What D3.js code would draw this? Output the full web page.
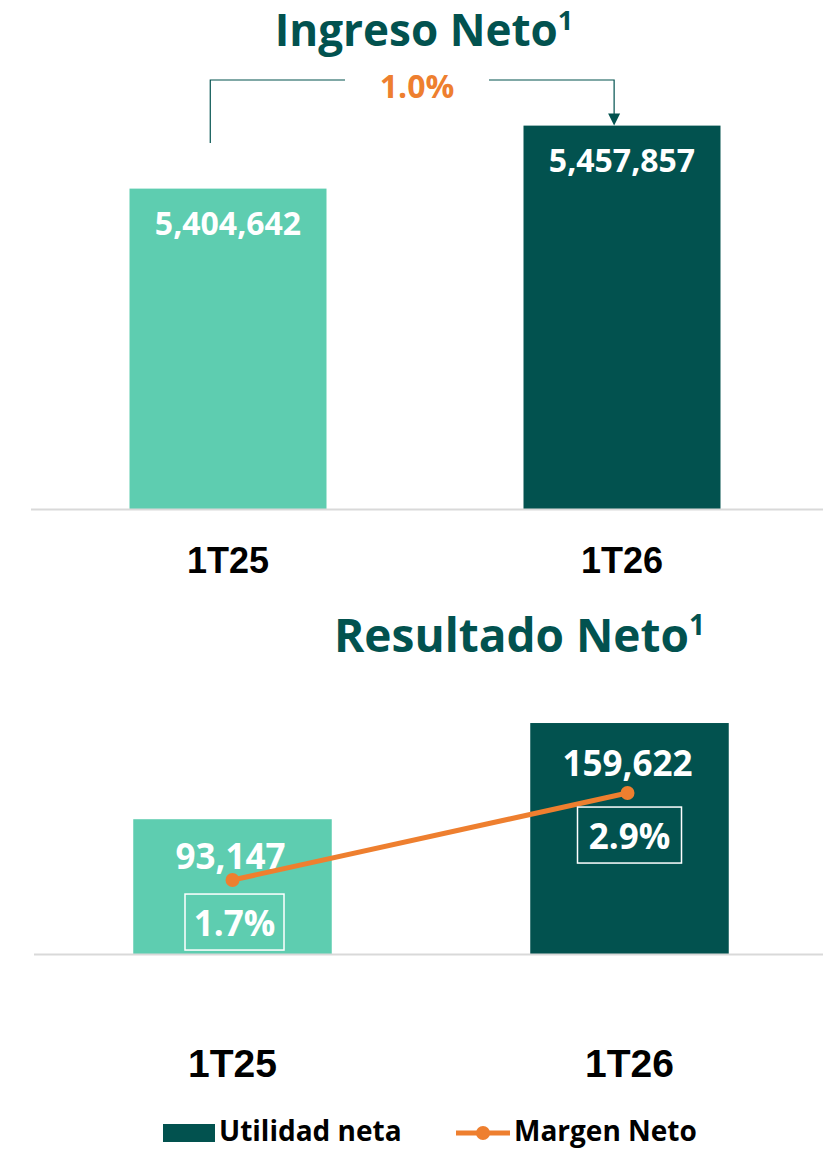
<!DOCTYPE html>
<html>
<head>
<meta charset="utf-8">
<script src="https://cdn.jsdelivr.net/npm/d3@7"></script>
<style>
  body { margin: 0; background: #fff; }
  svg text { font-family: "Open Sans", "Noto Sans", sans-serif; font-weight: 700; }
  .cat { font-family: "Liberation Sans", Arial, sans-serif; }
</style>
</head>
<body>
<div id="plot"></div>
<script>
// data
const periods = ["1T25", "1T26"];
const ingreso = [5404642, 5457857];
const ingresoGrowth = "1.0%";
const utilidad = [93147, 159622];
const margen = [1.7, 2.9];

const W = 823, H = 1149;
const dark = "#02524F", light = "#5ECDB0", orange = "#EE7F2F", grid = "#D9D9D9";
const fmt = d3.format(",");

const svg = d3.select("#plot").append("svg")
    .attr("width", W).attr("height", H);

// ---------- top chart: Ingreso Neto ----------
const x1 = d3.scaleBand().domain(periods).range([31, 819]).paddingInner(0.5).paddingOuter(0.25);
const y1 = d3.scaleLinear().domain([5134000, 5480000]).range([509, 99.4]);

const title1 = svg.append("text").attr("x", 424).attr("y", 46)
    .attr("text-anchor", "middle").attr("fill", dark).style("font-size", "44px");
title1.append("tspan").text("Ingreso Neto");
title1.append("tspan").attr("dy", -16).style("font-size", "27px").text("1");

svg.selectAll(".bar1").data(periods).join("rect")
    .attr("x", d => x1(d)).attr("width", x1.bandwidth())
    .attr("y", (d, i) => y1(ingreso[i]))
    .attr("height", (d, i) => y1.range()[0] - y1(ingreso[i]))
    .attr("fill", (d, i) => i === 0 ? light : dark);

svg.selectAll(".val1").data(periods).join("text")
    .attr("x", d => x1(d) + x1.bandwidth() / 2)
    .attr("y", (d, i) => y1(ingreso[i]) + 46)
    .attr("text-anchor", "middle").attr("fill", "#fff").style("font-size", "32px")
    .text((d, i) => fmt(ingreso[i]));

svg.append("line").attr("x1", 31).attr("x2", W).attr("y1", 509.5).attr("y2", 509.5)
    .attr("stroke", grid).attr("stroke-width", 2);

svg.selectAll(".cat1").data(periods).join("text").attr("class", "cat")
    .attr("x", d => x1(d) + x1.bandwidth() / 2).attr("y", 573)
    .attr("text-anchor", "middle").attr("fill", "#000").style("font-size", "36px")
    .text(d => d);

// growth bracket
const bx0 = x1(periods[0]) + x1.bandwidth() * 0.41;
const bx1 = x1(periods[1]) + x1.bandwidth() * 0.46;
const by = 80;
svg.append("path")
    .attr("d", `M${bx0},143 V${by} H345 M489,${by} H${bx1} V${y1(ingreso[1]) - 10}`)
    .attr("fill", "none").attr("stroke", dark).attr("stroke-width", 1.2);
svg.append("path")
    .attr("d", `M${bx1 - 6},${y1(ingreso[1]) - 12} L${bx1 + 6},${y1(ingreso[1]) - 12} L${bx1},${y1(ingreso[1])} Z`)
    .attr("fill", dark);
svg.append("text").attr("x", 417).attr("y", 98).attr("text-anchor", "middle")
    .attr("fill", orange).style("font-size", "32px").text(ingresoGrowth);

// ---------- bottom chart: Resultado Neto ----------
const x2 = d3.scaleBand().domain(periods).range([34, 828]).paddingInner(0.5).paddingOuter(0.25);
const y2 = d3.scaleLinear().domain([0, 200000]).range([954, 664.6]);
const y2m = d3.scaleLinear().domain([0, 4]).range([1003.3, 713.3]);

const title2 = svg.append("text").attr("x", 334).attr("y", 652)
    .attr("fill", dark).style("font-size", "46px");
title2.append("tspan").text("Resultado Neto");
title2.append("tspan").attr("dy", -17).style("font-size", "28px").text("1");

svg.selectAll(".bar2").data(periods).join("rect")
    .attr("x", d => x2(d)).attr("width", x2.bandwidth())
    .attr("y", (d, i) => y2(utilidad[i]))
    .attr("height", (d, i) => y2(0) - y2(utilidad[i]))
    .attr("fill", (d, i) => i === 0 ? light : dark);

svg.selectAll(".val2").data(periods).join("text")
    .attr("x", d => x2(d) + x2.bandwidth() / 2 - 2)
    .attr("y", (d, i) => y2(utilidad[i]) + (i === 0 ? 50 : 53))
    .attr("text-anchor", "middle").attr("fill", "#fff").style("font-size", "35px")
    .text((d, i) => fmt(utilidad[i]));

svg.append("line").attr("x1", 34).attr("x2", W).attr("y1", 954.5).attr("y2", 954.5)
    .attr("stroke", grid).attr("stroke-width", 2);

// margin line
const mx = (d, i) => x2(d) + x2.bandwidth() / 2 - (i === 0 ? 0 : 2);
svg.append("path")
    .datum(periods)
    .attr("d", d3.line().x(mx).y((d, i) => y2m(margen[i])))
    .attr("fill", "none").attr("stroke", orange).attr("stroke-width", 5);
svg.selectAll(".dot").data(periods).join("circle")
    .attr("cx", mx).attr("cy", (d, i) => y2m(margen[i])).attr("r", 7)
    .attr("fill", orange);

// margin labels in boxes
const boxW = [99, 104], boxH = 56;
periods.forEach((p, i) => {
    const cx = mx(p, i) + 2;
    const top = y2m(margen[i]) + 14;
    svg.append("rect").attr("x", cx - boxW[i] / 2).attr("y", top)
        .attr("width", boxW[i]).attr("height", boxH)
        .attr("fill", "none").attr("stroke", "#fff").attr("stroke-width", 1.5);
    svg.append("text").attr("x", cx).attr("y", top + 42)
        .attr("text-anchor", "middle").attr("fill", "#fff").style("font-size", "35px")
        .text(margen[i].toFixed(1) + "%");
});

svg.selectAll(".cat2").data(periods).join("text").attr("class", "cat")
    .attr("x", d => x2(d) + x2.bandwidth() / 2).attr("y", 1077)
    .attr("text-anchor", "middle").attr("fill", "#000").style("font-size", "39px")
    .text(d => d);

// legend
const lg = svg.append("g");
lg.append("rect").attr("x", 163).attr("y", 1124).attr("width", 52).attr("height", 18).attr("fill", dark);
lg.append("text").attr("x", 219).attr("y", 1141).attr("fill", "#000").style("font-size", "28px").text("Utilidad neta");
lg.append("line").attr("x1", 456).attr("x2", 510).attr("y1", 1133).attr("y2", 1133)
    .attr("stroke", orange).attr("stroke-width", 5);
lg.append("circle").attr("cx", 483).attr("cy", 1133).attr("r", 7).attr("fill", orange);
lg.append("text").attr("x", 514).attr("y", 1141).attr("fill", "#000").style("font-size", "28px").text("Margen Neto");
</script>
</body>
</html>
